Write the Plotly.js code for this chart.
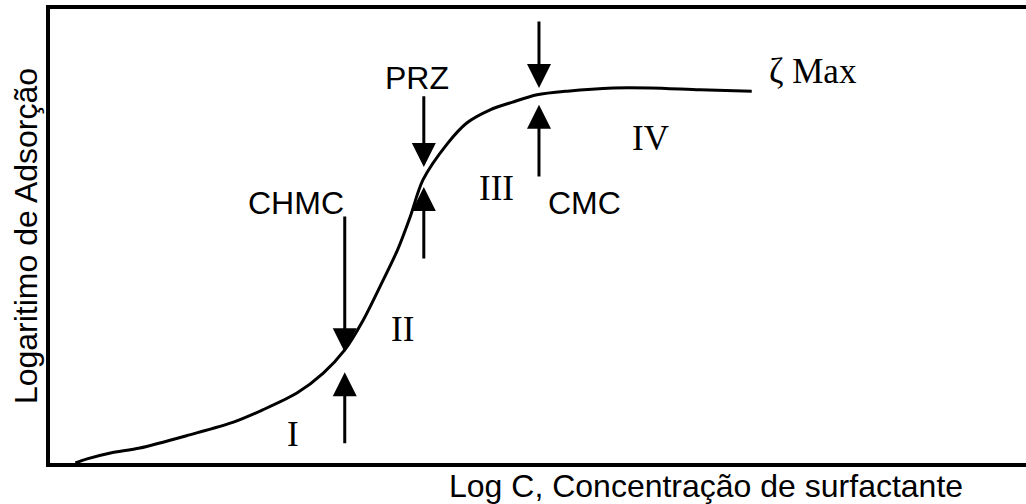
<!DOCTYPE html>
<html>
<head>
<meta charset="utf-8">
<script src="https://cdn.plot.ly/plotly-3.0.1.min.js"></script>
<style>
  html, body { margin: 0; padding: 0; background: #fff; }
  #chart { width: 1026px; height: 504px; }
</style>
</head>
<body>
<div id="chart"></div>
<script>
// Adsorption isotherm: log adsorption versus log surfactant concentration (arbitrary units)
const logC   = [2.6, 3.8, 6.2, 9.2, 14.3, 18.8, 21.8, 25.3, 28.0, 30.2, 32.1, 33.8, 35.6, 36.9, 38.2, 40.7, 42.7, 45.1, 47.4, 49.9, 53.0, 57.7, 61.5, 66.6, 71.9];
const logAds = [0.0, 0.9, 2.2, 3.3, 6.2, 9.0, 11.7, 15.4, 19.8, 24.9, 31.5, 38.8, 46.9, 54.2, 62.3, 70.3, 74.9, 77.8, 79.5, 81.1, 81.9, 82.6, 82.6, 82.2, 81.9];

// Transition points marked by a pair of arrows (one from above, one from below)
const pointNames = ['CHMC', 'PRZ', 'CMC'];
const pointX     = [30.2, 38.3, 50.1];
const downTail   = [54.6, 81.1, 97.6];
const downTip    = [24.4, 65.2, 82.6];
const upTail     = [4.0, 44.7, 62.8];
const upTip      = [20.0, 60.8, 78.9];
const nameX      = [25.2, 37.6, 54.8];
const nameY      = [57.3, 84.8, 57.3];

// Region labels along the isotherm
const regionNames = ['I', 'II', 'III', 'IV', 'ζ Max'];
const regionX     = [24.9, 36.1, 45.7, 61.5, 78.2];
const regionY     = [6.2, 29.3, 60.4, 71.4, 86.3];

const sans  = 'Liberation Sans, Arial, Helvetica, sans-serif';
const serif = 'Liberation Serif, Times New Roman, serif';

const annotations = [];

pointX.forEach((x, i) => {
  const arrow = {
    xref: 'x', yref: 'y', axref: 'x', ayref: 'y',
    x: x, ax: x, text: '', showarrow: true,
    arrowhead: 2, arrowsize: 1.6, arrowwidth: 3, arrowcolor: '#000',
    standoff: 0, startstandoff: 0
  };
  annotations.push(Object.assign({}, arrow, { y: downTip[i], ay: downTail[i] }));
  annotations.push(Object.assign({}, arrow, { y: upTip[i], ay: upTail[i] }));
  annotations.push({
    xref: 'x', yref: 'y', x: nameX[i], y: nameY[i],
    text: pointNames[i], showarrow: false,
    xanchor: 'center', yanchor: 'middle',
    font: { family: sans, size: 32, color: '#000' }
  });
});

regionNames.forEach((t, i) => {
  annotations.push({
    xref: 'x', yref: 'y', x: regionX[i], y: regionY[i],
    text: t, showarrow: false,
    xanchor: 'center', yanchor: 'middle',
    font: { family: serif, size: 35, color: '#000' }
  });
});

// Horizontal axis caption, set to the right under the axis
annotations.push({
  xref: 'paper', yref: 'paper', x: 0.672, y: -0.051,
  xanchor: 'center', yanchor: 'middle',
  text: 'Log C, Concentração de surfactante', showarrow: false,
  font: { family: sans, size: 32, color: '#000' }
});

const trace = {
  x: logC, y: logAds,
  type: 'scatter', mode: 'lines',
  line: { color: '#000', width: 3, shape: 'spline', smoothing: 0.8 },
  hoverinfo: 'skip'
};

const layout = {
  width: 1026, height: 504,
  margin: { l: 50, r: 0, t: 9, b: 41 },
  paper_bgcolor: '#fff', plot_bgcolor: '#fff',
  showlegend: false,
  xaxis: {
    range: [0, 100], showgrid: false, zeroline: false,
    showticklabels: false, ticks: '',
    showline: true, linewidth: 4, linecolor: '#000', mirror: true
  },
  yaxis: {
    range: [0, 100], showgrid: false, zeroline: false,
    showticklabels: false, ticks: '',
    showline: true, linewidth: 4, linecolor: '#000',
    title: { text: 'Logaritimo de Adsorção', standoff: 0,
             font: { family: sans, size: 32, color: '#000' } }
  },
  annotations: annotations
};

Plotly.newPlot('chart', [trace], layout, { staticPlot: true, displayModeBar: false });
</script>
</body>
</html>
